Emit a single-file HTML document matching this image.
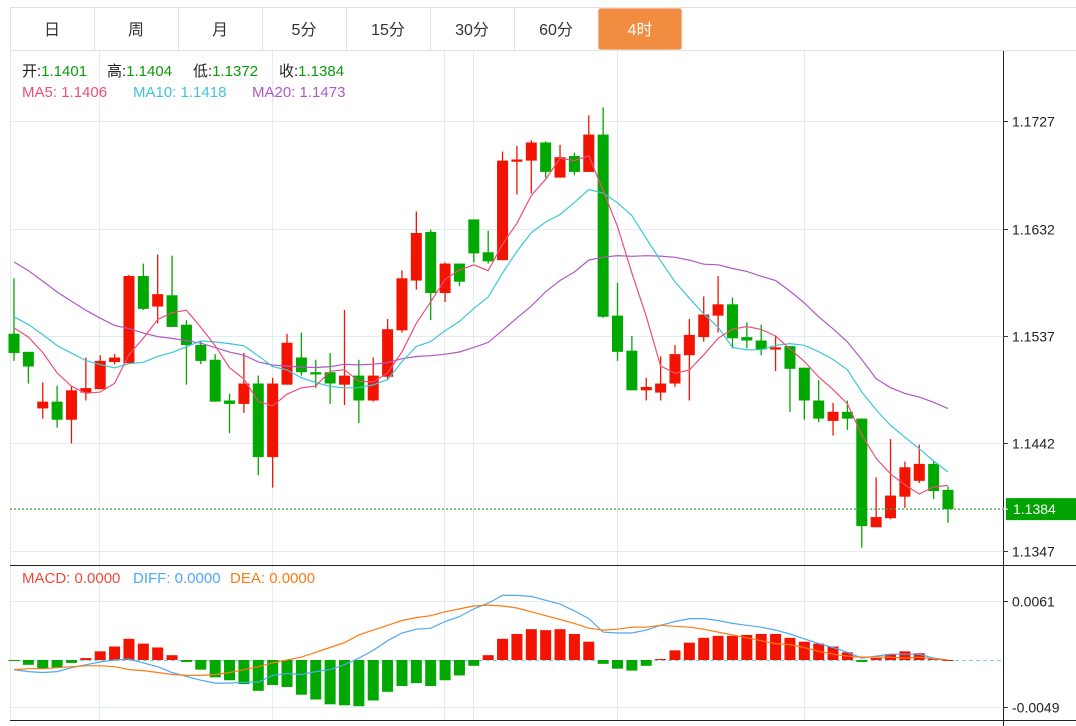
<!DOCTYPE html>
<html><head><meta charset="utf-8">
<style>
body{margin:0;width:1076px;height:726px;background:#fff;overflow:hidden;font-family:"Liberation Sans","Noto Sans CJK SC",sans-serif;}
svg{position:absolute;left:0;top:0;}
</style></head>
<body>
<svg id="chart" width="1076" height="726" xmlns="http://www.w3.org/2000/svg">
<g id="tabs"></g>
<g id="grid"></g>
<g id="macdLayer"></g>
<g id="candles"></g>
<g id="maLayer"></g>
<g id="axes"></g>
<g id="legend"></g>
</svg>
<script>
const tabLabels=["日","周","月","5分","15分","30分","60分","4时"];
const priceTicks=[1.1727,1.1632,1.1537,1.1442,1.1347];
const macdTicks=[0.0061,-0.0049];
const priorCloses=[1.1666,1.1662,1.1657,1.1653,1.1648,1.1657,1.1644,1.1648,1.1640,1.1635,1.1578,1.1569,1.1560,1.1556,1.1556,1.1551,1.1547,1.1553,1.1548];
const opens=[1.1539,1.1523,1.1473,1.1479,1.1463,1.1487,1.1490,1.1514,1.1513,1.1590,1.1563,1.1573,1.1547,1.1529,1.1516,1.1480,1.1477,1.1495,1.1430,1.1494,1.1518,1.1505,1.1505,1.1494,1.1502,1.1480,1.1501,1.1542,1.1586,1.1629,1.1575,1.1601,1.1640,1.1611,1.1604,1.1691,1.1692,1.1708,1.1677,1.1696,1.1682,1.1715,1.1555,1.1524,1.1489,1.1487,1.1495,1.1520,1.1536,1.1555,1.1565,1.1536,1.1533,1.1525,1.1528,1.1509,1.1480,1.1462,1.1470,1.1464,1.1368,1.1376,1.1395,1.1409,1.1424,1.1401];
const highs=[1.1588,1.1523,1.1496,1.1493,1.1493,1.1518,1.1520,1.1521,1.1591,1.1601,1.1609,1.1608,1.1551,1.1532,1.1521,1.1486,1.1522,1.1502,1.1500,1.1539,1.1540,1.1516,1.1522,1.1560,1.1516,1.1518,1.1552,1.1595,1.1647,1.1631,1.1602,1.1601,1.1640,1.1630,1.1700,1.1705,1.1710,1.1709,1.1706,1.1699,1.1732,1.1739,1.1584,1.1537,1.1500,1.1519,1.1529,1.1552,1.1572,1.1590,1.1571,1.1549,1.1547,1.1537,1.1528,1.1509,1.1498,1.1478,1.1480,1.1464,1.1412,1.1446,1.1426,1.1441,1.1427,1.1404];
const lows=[1.1515,1.1495,1.1464,1.1456,1.1442,1.1480,1.1490,1.1512,1.1513,1.1560,1.1548,1.1545,1.1494,1.1512,1.1479,1.1451,1.1469,1.1414,1.1403,1.1494,1.1502,1.1491,1.1477,1.1476,1.1460,1.1479,1.1498,1.1540,1.1578,1.1551,1.1567,1.1581,1.1602,1.1601,1.1604,1.1662,1.1663,1.1677,1.1677,1.1679,1.1682,1.1553,1.1515,1.1489,1.1480,1.1480,1.1492,1.1480,1.1532,1.1540,1.1526,1.1526,1.1520,1.1506,1.1470,1.1463,1.1461,1.1449,1.1454,1.1350,1.1368,1.1375,1.1385,1.1407,1.1393,1.1372];
const closes=[1.1522,1.1510,1.1479,1.1463,1.1489,1.1491,1.1515,1.1518,1.1590,1.1561,1.1574,1.1545,1.1529,1.1515,1.1479,1.1477,1.1495,1.1430,1.1495,1.1531,1.1505,1.1503,1.1495,1.1502,1.1480,1.1502,1.1543,1.1588,1.1628,1.1575,1.1601,1.1585,1.1610,1.1603,1.1692,1.1693,1.1708,1.1682,1.1695,1.1682,1.1715,1.1554,1.1523,1.1489,1.1492,1.1495,1.1521,1.1538,1.1556,1.1565,1.1535,1.1533,1.1525,1.1527,1.1508,1.1480,1.1464,1.1470,1.1464,1.1369,1.1377,1.1396,1.1421,1.1424,1.1400,1.1384];
const macdHist=[-0.0001,-0.0005,-0.0009,-0.0008,-0.0003,0.0002,0.0009,0.0014,0.0022,0.0017,0.0013,0.0005,-0.0002,-0.0010,-0.0018,-0.0021,-0.0025,-0.0032,-0.0026,-0.0028,-0.0036,-0.0041,-0.0046,-0.0047,-0.0048,-0.0042,-0.0033,-0.0027,-0.0024,-0.0027,-0.0021,-0.0016,-0.0006,0.0005,0.0022,0.0027,0.0032,0.0031,0.0032,0.0027,0.0019,-0.0004,-0.0009,-0.0011,-0.0006,0.0001,0.0010,0.0018,0.0023,0.0025,0.0025,0.0026,0.0027,0.0027,0.0023,0.0019,0.0017,0.0014,0.0008,-0.0002,0.0002,0.0006,0.0009,0.0007,0.0002,0.0000];
const diffLine=[-0.0010,-0.0012,-0.0013,-0.0012,-0.0008,-0.0005,-0.0002,0.0000,0.0001,-0.0003,-0.0007,-0.0013,-0.0017,-0.0021,-0.0024,-0.0024,-0.0023,-0.0023,-0.0016,-0.0014,-0.0015,-0.0012,-0.0010,-0.0005,0.0002,0.0010,0.0020,0.0028,0.0032,0.0033,0.0040,0.0045,0.0053,0.0059,0.0067,0.0067,0.0066,0.0062,0.0058,0.0051,0.0043,0.0029,0.0028,0.0028,0.0031,0.0036,0.0040,0.0043,0.0043,0.0041,0.0038,0.0036,0.0034,0.0031,0.0027,0.0022,0.0017,0.0013,0.0008,0.0002,0.0004,0.0006,0.0006,0.0006,0.0002,0.0000];
const deaLine=[-0.0010,-0.0009,-0.0009,-0.0008,-0.0007,-0.0006,-0.0006,-0.0007,-0.0010,-0.0011,-0.0013,-0.0015,-0.0016,-0.0016,-0.0015,-0.0013,-0.0010,-0.0007,-0.0003,0.0000,0.0003,0.0008,0.0013,0.0018,0.0026,0.0031,0.0036,0.0041,0.0044,0.0046,0.0050,0.0053,0.0056,0.0057,0.0056,0.0054,0.0050,0.0046,0.0042,0.0038,0.0033,0.0031,0.0032,0.0034,0.0034,0.0036,0.0035,0.0034,0.0032,0.0029,0.0026,0.0023,0.0020,0.0017,0.0016,0.0013,0.0009,0.0006,0.0004,0.0003,0.0003,0.0003,0.0002,0.0003,0.0001,0.0000];

const NS="http://www.w3.org/2000/svg";
const RED="#f21400",GREEN="#00a800";
function mk(tag,attrs,parent,text){const e=document.createElementNS(NS,tag);for(const k in attrs)e.setAttribute(k,attrs[k]);if(text!==undefined)e.textContent=text;parent.appendChild(e);return e;}
const X0=14,STEP=(948-14)/65;
function xAt(i){return X0+i*STEP;}
function yP(p){return 121+(1.1727-p)/0.0095*107.5;}
function yM(v){return 660-v*(106/0.011);}
function fmt(v){return v.toFixed(4);}

// tabs
const tabs=document.getElementById('tabs');
mk('line',{x1:10,y1:7.5,x2:1076,y2:7.5,stroke:'#e0e0e0'},tabs);
mk('line',{x1:10,y1:50.5,x2:1076,y2:50.5,stroke:'#e0e0e0'},tabs);
tabLabels.forEach((t,i)=>{
  const x=10+i*84;
  const active=i===tabLabels.length-1;
  if(active){
    const r=mk('rect',{x:x,y:8,width:84,height:42,rx:3,fill:'#f28c40',stroke:'#e8e8e8'},tabs);
    
    
  }else{
    const l=mk('line',{x1:x+0.5,y1:8,x2:x+0.5,y2:50,stroke:'#e0e0e0'},tabs);
    
    
  }
  const tx=mk('text',{x:x+42,y:35,'text-anchor':'middle','font-size':16,fill:active?'#fff':'#333'},tabs,t);
  
  
});

// grid
const grid=document.getElementById('grid');
mk('line',{x1:10.5,y1:51,x2:10.5,y2:720,stroke:'#e3e9ef'},grid);
[99,272,444,473,617,804].forEach(x=>{
  mk('line',{x1:x+0.5,y1:51,x2:x+0.5,y2:720,stroke:'#e3ebf2'},grid);
});
priceTicks.forEach(p=>{const y=Math.round(yP(p))+0.5;mk('line',{x1:10,y1:y,x2:1003,y2:y,stroke:'#e3ebf2'},grid);});
macdTicks.forEach(v=>{const y=Math.round(yM(v))+0.5;mk('line',{x1:10,y1:y,x2:1003,y2:y,stroke:'#e3ebf2'},grid);});

// candles
const cg=document.getElementById('candles');
for(let i=0;i<closes.length;i++){
  const up=closes[i]>=opens[i];
  const col=up?RED:GREEN;
  const x=xAt(i);
  const w=mk('line',{x1:x,y1:yP(highs[i]),x2:x,y2:yP(lows[i]),stroke:col,'stroke-width':1.3},cg);
  
  
  const top=yP(Math.max(opens[i],closes[i])),bot=yP(Math.min(opens[i],closes[i]));
  const b=mk('rect',{x:x-5.5,y:top,width:11,height:Math.max(1.5,bot-top),fill:col},cg);
  
  
}
const lastY=yP(closes[closes.length-1]);
mk('line',{x1:10,y1:lastY,x2:1003,y2:lastY,stroke:'#3aa83a','stroke-dasharray':'2,2','stroke-width':1.2},cg);

// MAs
const all=priorCloses.concat(closes);
const off=priorCloses.length;
function ma(n){const out=[];for(let i=0;i<closes.length;i++){let s=0;for(let k=0;k<n;k++)s+=all[off+i-k];out.push(s/n);}return out;}
const ma5=ma(5),ma10=ma(10),ma20=ma(20);
const mal=document.getElementById('maLayer');
[[ma20,'#b157c8','ma20-line'],[ma10,'#3cc6da','ma10-line'],[ma5,'#ec4f7c','ma5-line']].forEach(([arr,c,n])=>{
  const d=arr.map((v,i)=>(i?'L':'M')+xAt(i).toFixed(1)+','+yP(v).toFixed(1)).join('');
  const p=mk('path',{d:d,fill:'none',stroke:c,'stroke-width':1.2},mal);
  
  
});

// MACD
const mg=document.getElementById('macdLayer');
mk('line',{x1:10,y1:660.5,x2:1003,y2:660.5,stroke:'#7fd0ee','stroke-dasharray':'4,3'},mg);
macdHist.forEach((v,i)=>{
  const y0=yM(0),y1=yM(v);
  const r=mk('rect',{x:xAt(i)-5.5,y:Math.min(y0,y1),width:11,height:Math.max(1,Math.abs(y1-y0)),fill:v>=0?RED:GREEN},mg);
  
  
});
[[diffLine,'#4ea8f5','diff-line'],[deaLine,'#ff7a12','dea-line']].forEach(([arr,c,n])=>{
  const d=arr.map((v,i)=>(i?'L':'M')+xAt(i).toFixed(1)+','+yM(v).toFixed(1)).join('');
  const p=mk('path',{d:d,fill:'none',stroke:c,'stroke-width':1.2},mg);
  
  
});

// axes
const ax=document.getElementById('axes');
mk('line',{x1:1003.5,y1:51,x2:1003.5,y2:726,stroke:'#222'},ax);
mk('line',{x1:10,y1:565.5,x2:1076,y2:565.5,stroke:'#222'},ax);
mk('line',{x1:10,y1:720.5,x2:1076,y2:720.5,stroke:'#222'},ax);
priceTicks.forEach(p=>{
  const y=Math.round(yP(p))+0.5;
  mk('line',{x1:1003,y1:y,x2:1008,y2:y,stroke:'#333'},ax);
  const t=mk('text',{x:1012,y:y+5,'font-size':14,fill:'#222'},ax,fmt(p));
  
  
});
macdTicks.forEach(v=>{
  const y=Math.round(yM(v))+0.5;
  mk('line',{x1:1003,y1:y,x2:1008,y2:y,stroke:'#333'},ax);
  const t=mk('text',{x:1012,y:y+5,'font-size':14,fill:'#222'},ax,fmt(v));
  
  
});
const lastBox=mk('rect',{x:1006,y:lastY-11,width:70,height:22,fill:'#00a300'},ax);


mk('line',{x1:1003,y1:lastY,x2:1008,y2:lastY,stroke:'#fff'},ax);
mk('text',{x:1013,y:lastY+5,'font-size':14,fill:'#fff'},ax,fmt(closes[closes.length-1]));

// legend
const lg=document.getElementById('legend');
const n=closes.length-1;
function item(x,y,label,lc,val,vc,name){
  const t=mk('text',{x:x,y:y,'font-size':15},lg);
  mk('tspan',{fill:lc},t,label);
  mk('tspan',{fill:vc},t,val);
  
  
}
const G="#0a9a0a";
item(22,76,"开:","#222",fmt(opens[n]),G,'legend-open');
item(107,76,"高:","#222",fmt(highs[n]),G,'legend-high');
item(193,76,"低:","#222",fmt(lows[n]),G,'legend-low');
item(279,76,"收:","#222",fmt(closes[n]),G,'legend-close');
item(22,97,"MA5: ","#ec4f7c","1.1406","#ec4f7c",'legend-ma5');
item(133,97,"MA10: ","#3cc6da","1.1418","#3cc6da",'legend-ma10');
item(252,97,"MA20: ","#b157c8",fmt(ma20[n]),"#b157c8",'legend-ma20');
item(22,583,"MACD: ","#ef4a3a","0.0000","#ef4a3a",'legend-macd');
item(133,583,"DIFF: ","#4ea8f5","0.0000","#4ea8f5",'legend-diff');
item(230,583,"DEA: ","#ff7a12","0.0000","#ff7a12",'legend-dea');
</script>
</body></html>
